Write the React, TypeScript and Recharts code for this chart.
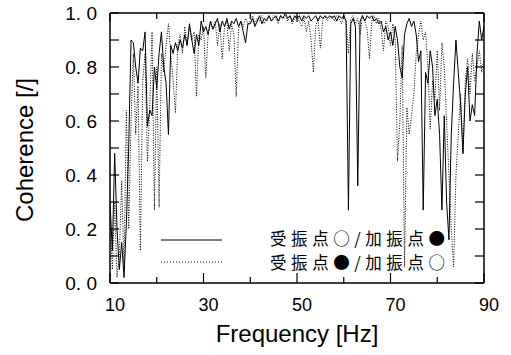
import { LineChart, Line, XAxis, YAxis } from 'recharts';

const freqs = [
  10, 10.5, 11, 11.5, 12, 12.5, 13, 13.5, 14, 14.5, 15, 15.5, 16, 16.5, 17, 17.5, 18, 18.5, 19, 19.5,
  20, 20.5, 21, 21.5, 22, 22.5, 23, 23.5, 24, 24.5, 25, 25.5, 26, 26.5, 27, 27.5, 28, 28.5, 29, 29.5,
  30, 30.5, 31, 31.5, 32, 32.5, 33, 33.5, 34, 34.5, 35, 35.5, 36, 36.5, 37, 37.5, 38, 38.5, 39, 39.5,
  40, 40.5, 41, 41.5, 42, 42.5, 43, 43.5, 44, 44.5, 45, 45.5, 46, 46.5, 47, 47.5, 48, 48.5, 49, 49.5,
  50, 50.5, 51, 51.5, 52, 52.5, 53, 53.5, 54, 54.5, 55, 55.5, 56, 56.5, 57, 57.5, 58, 58.5, 59, 59.5,
  60, 60.5, 61, 61.5, 62, 62.5, 63, 63.5, 64, 64.5, 65, 65.5, 66, 66.5, 67, 67.5, 68, 68.5, 69, 69.5,
  70, 70.5, 71, 71.5, 72, 72.5, 73, 73.5, 74, 74.5, 75, 75.5, 76, 76.5, 77, 77.5, 78, 78.5, 79, 79.5,
  80, 80.5, 81, 81.5, 82, 82.5, 83, 83.5, 84, 84.5, 85, 85.5, 86, 86.5, 87, 87.5, 88, 88.5, 89, 89.5,
  90,
];

// 受振点○/加振点● (solid)
const solidCoh = [
  0.30, 0.12, 0.48, 0.20, 0.05, 0.15, 0.02, 0.22, 0.50, 0.90, 0.89, 0.80, 0.74, 0.87, 0.86, 0.93, 0.58, 0.64, 0.62, 0.80,
  0.72, 0.85, 0.93, 0.80, 0.74, 0.55, 0.88, 0.85, 0.89, 0.86, 0.90, 0.87, 0.92, 0.88, 0.96, 0.90, 0.85, 0.92, 0.88, 0.97,
  0.93, 0.95, 0.92, 0.97, 0.94, 0.96, 0.98, 0.93, 0.97, 0.95, 0.98, 0.94, 0.97, 0.96, 0.98, 0.95, 0.97, 0.93, 0.89, 0.96,
  0.96, 0.98, 0.95, 0.97, 0.99, 0.96, 0.98, 0.97, 0.99, 0.97, 0.98, 0.99, 0.97, 0.99, 0.98, 1.00, 0.98, 0.99, 0.97, 0.99,
  0.98, 0.99, 0.97, 0.99, 0.98, 0.99, 0.97, 0.98, 0.99, 0.97, 0.99, 0.98, 0.99, 0.98, 0.99, 0.98, 0.99, 0.97, 0.99, 0.98,
  0.99, 0.97, 0.27, 0.96, 0.98, 0.95, 0.36, 0.97, 0.99, 0.97, 0.99, 0.98, 0.99, 0.97, 0.98, 0.96, 0.97, 0.93, 0.95, 0.90,
  0.93, 0.88, 0.95, 0.90, 0.80, 0.76, 0.92, 0.96, 0.98, 0.95, 0.97, 0.92, 0.82, 0.86, 0.27, 0.78, 0.74, 0.86, 0.80, 0.62,
  0.68, 0.55, 0.27, 0.62, 0.30, 0.16, 0.55, 0.74, 0.90, 0.78, 0.66, 0.48, 0.70, 0.80, 0.60, 0.66, 0.62, 0.85, 0.97, 0.90,
  0.95,
];

// 受振点●/加振点○ (dotted)
const dottedCoh = [
  0.25, 0.05, 0.30, 0.02, 0.10, 0.38, 0.05, 0.64, 0.20, 0.60, 0.85, 0.55, 0.73, 0.12, 0.75, 0.85, 0.45, 0.65, 0.93, 0.27,
  0.80, 0.28, 0.85, 0.78, 0.88, 0.96, 0.85, 0.75, 0.63, 0.88, 0.92, 0.85, 0.95, 0.88, 0.95, 0.90, 0.93, 0.69, 0.92, 0.90,
  0.95, 0.76, 0.93, 0.97, 0.94, 0.97, 0.88, 0.96, 0.83, 0.95, 0.97, 0.86, 0.96, 0.92, 0.69, 0.94, 0.97, 0.95, 0.98, 0.96,
  0.97, 0.99, 0.96, 0.98, 0.97, 0.99, 0.96, 0.98, 0.99, 0.97, 0.99, 0.98, 0.96, 0.99, 0.98, 0.99, 0.97, 0.99, 0.96, 0.98,
  0.99, 0.97, 0.95, 0.98, 0.93, 0.97, 0.90, 0.78, 0.95, 0.98, 0.87, 0.97, 0.99, 0.97, 0.98, 0.99, 0.97, 0.99, 0.98, 0.96,
  0.99, 0.97, 0.85, 0.98, 0.99, 0.96, 0.98, 0.92, 0.99, 0.97, 0.94, 0.83, 0.97, 0.99, 0.96, 0.98, 0.94, 0.86, 0.97, 0.95,
  0.88, 0.96, 0.90, 0.45, 0.60, 0.88, 0.06, 0.65, 0.55, 0.62, 0.70, 0.85, 0.92, 0.97, 0.90, 0.93, 0.80, 0.57, 0.75, 0.68,
  0.86, 0.64, 0.89, 0.80, 0.60, 0.40, 0.20, 0.06, 0.40, 0.55, 0.70, 0.48, 0.75, 0.83, 0.70, 0.85, 0.75, 0.80, 0.86, 0.78,
  0.83,
];

const xTicks = [10, 20, 30, 40, 50, 60, 70, 80, 90];
const xLabels = [10, 30, 50, 70, 90];
const yTicks = [0, 0.1, 0.2, 0.3, 0.4, 0.5, 0.6, 0.7, 0.8, 0.9, 1.0];
const legendLabels = ['受振点○/加振点●', '受振点●/加振点○'];

const solidData = freqs.map((f, i) => ({ f, v: solidCoh[i] }));
const dottedData = freqs.map((f, i) => ({ f, v: dottedCoh[i] }));

const FONT = '"Liberation Sans", Arial, sans-serif';
const JP_FONT = '"Noto Sans CJK JP", sans-serif';
const axisLine = { stroke: '#000', strokeWidth: 1.5 };

const isLabeledY = (v: number) => Math.round(v * 10) % 2 === 0;

function BottomTick({ x, y, payload }: any) {
  const major = xLabels.includes(payload.value);
  return (
    <g>
      <line x1={x} y1={y} x2={x} y2={y - (major ? 10 : 6)} stroke="#000" strokeWidth={1.2} />
      {major && (
        <text x={x + 5} y={y + 28} textAnchor="middle" fontSize={18} fontFamily={FONT} fill="#000">
          {payload.value}
        </text>
      )}
    </g>
  );
}

function TopTick({ x, y, payload }: any) {
  const major = xLabels.includes(payload.value);
  return <line x1={x} y1={y} x2={x} y2={y + (major ? 9 : 6)} stroke="#000" strokeWidth={1.2} />;
}

function LeftTick({ x, y, payload }: any) {
  const v = payload.value;
  return (
    <g>
      <line x1={x} y1={y} x2={x + 9} y2={y} stroke="#000" strokeWidth={1.2} />
      {isLabeledY(v) && (
        <text x={x - 13} y={y + 7} textAnchor="end" fontSize={19} fontFamily={FONT} fill="#000">
          {v.toFixed(1).replace('.', '. ')}
        </text>
      )}
    </g>
  );
}

function RightTick({ x, y }: any) {
  return <line x1={x} y1={y} x2={x - 9} y2={y} stroke="#000" strokeWidth={1.2} />;
}

export default function App() {
  return (
    <div style={{ position: 'absolute', left: 0, top: 0, width: 511, height: 355, background: '#fff' }}>
      <LineChart width={511} height={355} margin={{ top: 12, right: 26, bottom: 71, left: 109 }}>
        <XAxis
          xAxisId="b"
          dataKey="f"
          type="number"
          domain={[10, 90]}
          ticks={xTicks}
          interval={0}
          height={1}
          tickSize={0}
          tickMargin={0}
          tickLine={false}
          tick={<BottomTick />}
          axisLine={axisLine}
          allowDataOverflow
        />
        <XAxis
          xAxisId="t"
          orientation="top"
          dataKey="f"
          type="number"
          domain={[10, 90]}
          ticks={xTicks}
          interval={0}
          height={1}
          tickSize={0}
          tickMargin={0}
          tickLine={false}
          tick={<TopTick />}
          axisLine={axisLine}
          allowDataOverflow
        />
        <YAxis
          yAxisId="l"
          type="number"
          domain={[0, 1]}
          ticks={yTicks}
          interval={0}
          width={1}
          tickSize={0}
          tickMargin={0}
          tickLine={false}
          tick={<LeftTick />}
          axisLine={axisLine}
          allowDataOverflow
        />
        <YAxis
          yAxisId="r"
          orientation="right"
          type="number"
          domain={[0, 1]}
          ticks={yTicks}
          interval={0}
          width={1}
          tickSize={0}
          tickMargin={0}
          tickLine={false}
          tick={<RightTick />}
          axisLine={axisLine}
          allowDataOverflow
        />
        <Line
          xAxisId="b"
          yAxisId="l"
          data={dottedData}
          dataKey="v"
          type="linear"
          stroke="#000"
          strokeWidth={1}
          strokeDasharray="1 1.5"
          dot={false}
          isAnimationActive={false}
        />
        <Line
          xAxisId="b"
          yAxisId="l"
          data={solidData}
          dataKey="v"
          type="linear"
          stroke="#000"
          strokeWidth={1}
          dot={false}
          isAnimationActive={false}
        />
      </LineChart>
      <svg width={511} height={355} style={{ position: 'absolute', left: 0, top: 0, pointerEvents: 'none' }}>
        <text
          x={33}
          y={150}
          transform="rotate(-90 33 150)"
          textAnchor="middle"
          fontSize={24}
          fontFamily={FONT}
          fill="#000"
        >
          Coherence [/]
        </text>
        <text x={297} y={342} textAnchor="middle" fontSize={24} fontFamily={FONT} fill="#000">
          Frequency [Hz]
        </text>
        <line x1={161} y1={240} x2={222} y2={240} stroke="#000" strokeWidth={1} />
        <line x1={161} y1={262} x2={222} y2={262} stroke="#000" strokeWidth={1} strokeDasharray="1 2" />
        <text x={270} y={245} fontSize={16.5} fontFamily={JP_FONT} fill="#000" textLength={175} lengthAdjust="spacing">
          {legendLabels[0]}
        </text>
        <text x={270} y={269} fontSize={16.5} fontFamily={JP_FONT} fill="#000" textLength={175} lengthAdjust="spacing">
          {legendLabels[1]}
        </text>
      </svg>
    </div>
  );
}
